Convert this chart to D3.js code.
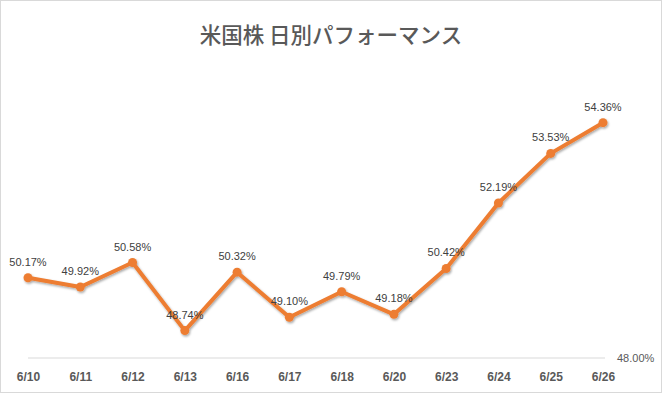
<!DOCTYPE html>
<html><head><meta charset="utf-8">
<script src="https://cdn.jsdelivr.net/npm/d3@7"></script>
<style>html,body{margin:0;padding:0;background:#fff;}svg{display:block;}</style>
</head><body>
<script>
const categories = ["6/10","6/11","6/12","6/13","6/16","6/17","6/18","6/20","6/23","6/24","6/25","6/26"];
const values = [50.17,49.92,50.58,48.74,50.32,49.10,49.79,49.18,50.42,52.19,53.53,54.36];
const yAxisLabels = [48];
const title = "米国株 日別パフォーマンス";

const W = 662, H = 393;
const svg = d3.select("body").append("svg").attr("width", W).attr("height", H);
const defs = svg.append("defs");
const f = defs.append("filter").attr("id","sh").attr("x","-10%").attr("y","-10%").attr("width","120%").attr("height","130%");
f.append("feDropShadow").attr("dx",1).attr("dy",1.5).attr("stdDeviation",1.2).attr("flood-color","#000").attr("flood-opacity",0.35);

svg.append("rect").attr("x",0.5).attr("y",0.5).attr("width",W-1).attr("height",H-1)
  .attr("fill","#fff").attr("stroke","#d9d9d9");

svg.append("text").attr("x",331).attr("y",43).attr("text-anchor","middle")
  .attr("font-family","'Noto Sans CJK JP', sans-serif").attr("font-size",21.5)
  .attr("font-weight",500)
  .attr("fill","#595959").text(title);

const x = d3.scalePoint().domain(categories).range([28, 603]);
const y = d3.scaleLinear().domain([48, 56]).range([358, 62]);

// baseline gridline
svg.append("line").attr("x1",28).attr("x2",605).attr("y1",y(48)).attr("y2",y(48))
  .attr("stroke","#d9d9d9").attr("stroke-width",1);

// right axis label
svg.selectAll(".ylab").data(yAxisLabels).enter().append("text")
  .attr("x",617).attr("y",d=>y(d)+4)
  .attr("font-family","'Liberation Sans', sans-serif").attr("font-size",11)
  .attr("fill","#595959").text(d=>d.toFixed(2)+"%");

// x axis labels
const xAxis = d3.axisBottom(x).tickSize(0).tickPadding(0);
const gx = svg.append("g").attr("transform",`translate(0,${y(48)+14})`).call(xAxis);
gx.select(".domain").remove();
gx.selectAll("text").attr("font-family","'Liberation Sans', sans-serif")
  .attr("font-size",12).attr("font-weight","bold").attr("fill","#595959");

const data = categories.map((c,i)=>({c, v: values[i]}));
const g = svg.append("g").attr("filter","url(#sh)");
g.append("path").datum(data)
  .attr("d", d3.line().x(d=>x(d.c)).y(d=>y(d.v)))
  .attr("fill","none").attr("stroke","#ED7D31").attr("stroke-width",4)
  .attr("stroke-linejoin","round");
g.selectAll("circle").data(data).enter().append("circle")
  .attr("cx",d=>x(d.c)).attr("cy",d=>y(d.v)).attr("r",4.5).attr("fill","#ED7D31");

svg.selectAll(".dl").data(data).enter().append("text")
  .attr("x",d=>x(d.c)).attr("y",d=>y(d.v)-12)
  .attr("text-anchor","middle")
  .attr("font-family","'Liberation Sans', sans-serif").attr("font-size",11)
  .attr("fill","#404040").text(d=>d.v.toFixed(2)+"%");
</script>
</body></html>
